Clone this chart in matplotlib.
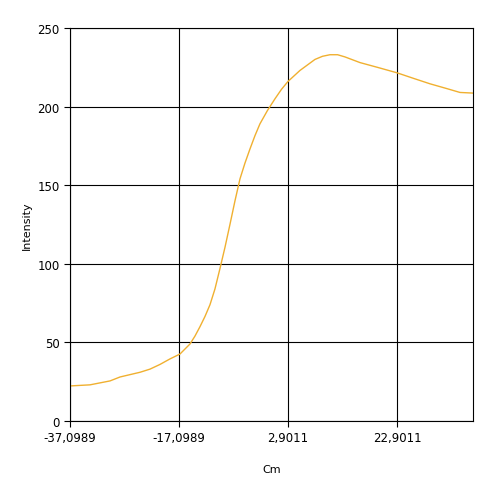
import numpy as np
import matplotlib
matplotlib.use('Agg')
import matplotlib.pyplot as plt
from matplotlib.ticker import FuncFormatter

# values
cm = [-37.0989, -33.43, -29.75, -27.92, -24.25, -22.42, -20.58, -18.75, -16.92,
      -15.08, -14.17, -13.25, -12.33, -11.41, -10.50, -9.58, -8.66, -7.75,
      -6.83, -5.91, -5.00, -4.08, -3.16, -2.25, -0.87, 0.52, 1.71, 2.90, 5.10,
      7.85, 9.23, 10.61, 12.00, 13.36, 16.11, 19.50, 22.90, 25.90, 28.96,
      32.00, 34.46, 36.85]
intensity = [22.3, 23, 25.5, 28, 31, 33, 36, 39.5, 42.6,
             49, 54, 60, 66.5, 74, 84, 97, 110.5, 125,
             140, 154, 164, 173, 181.5, 189, 197.5, 205, 211, 216, 223,
             230, 232, 233, 233, 231.6, 228, 224.8, 221.5, 218, 214.5,
             211.5, 209, 208.6]
xticks = [-37.0989, -17.0989, 2.9011, 22.9011]
yticks = [0, 50, 100, 150, 200, 250]

fig = plt.figure(figsize=(4.88, 4.81), dpi=100)
ax = fig.add_axes([70/488, 59/481, 403/488, 393/481])
ax.plot(cm, intensity, color='#F0B030', lw=1)
ax.set_xlim(-37.0989, 36.85)
ax.set_ylim(0, 250)
ax.set_xticks(xticks)
ax.set_yticks(yticks)
ax.xaxis.set_major_formatter(FuncFormatter(lambda v, p: '{:.4f}'.format(v).replace('.', ',')))
ax.grid(True, color='black', lw=0.8)
ax.tick_params(labelsize=8.5, length=4)
ax.set_xlabel('Cm', fontsize=8, labelpad=14)
ax.set_ylabel('Intensity', fontsize=8)
fig.savefig('out.png', dpi=100)
